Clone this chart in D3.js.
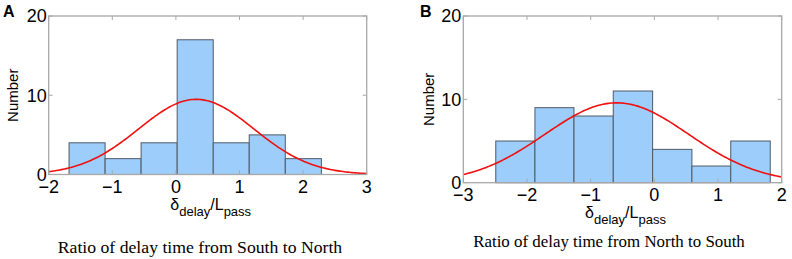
<!doctype html>
<html>
  <head>
    <meta charset="utf-8">
    <title>Delay ratio histograms</title>
    <script src="https://cdn.jsdelivr.net/npm/d3@7"></script>
    <style>
      body { margin: 0; background: #fff; }
      text { font-family: "Liberation Sans", Arial, sans-serif; }
      text.caption { font-family: "Liberation Serif", "Times New Roman", serif; }
    </style>
  </head>
  <body>
    <script>
      // bin edges and counts
      const edgesA = [-1.68, -1.113, -0.547, 0.02, 0.587, 1.153, 1.72, 2.287];
      const countsA = [4, 2, 4, 17, 4, 5, 2];
      const edgesB = [-2.49, -1.875, -1.262, -0.645, -0.027, 0.59, 1.2, 1.82];
      const countsB = [5, 9, 8, 11, 4, 2, 5];

      // fitted normal curve: [mean, sd]
      const fitA = [0.32, 0.906];
      const fitB = [-0.59, 1.128];

      const xTicksA = [-2, -1, 0, 1, 2, 3];
      const xTicksB = [-3, -2, -1, 0, 1, 2];
      const yTicks = [0, 10, 20];

      const captionA = 'Ratio of delay time from South to North';
      const captionB = 'Ratio of delay time from North to South';

      const svg = d3.select('body').append('svg')
          .attr('width', 792)
          .attr('height', 259);

      function panel(o) {
        const g = svg.append('g');
        const x = d3.scaleLinear().domain(o.xDomain).range([o.left, o.right]);
        const y = d3.scaleLinear().domain([0, 20]).range([o.bottom, o.top]);

        const bins = o.counts.map((c, i) => ({ x0: o.edges[i], x1: o.edges[i + 1], n: c }));

        // bars
        g.append('g').selectAll('rect')
          .data(bins)
          .enter().append('rect')
            .attr('x', d => x(d.x0))
            .attr('y', d => y(d.n))
            .attr('width', d => x(d.x1) - x(d.x0))
            .attr('height', d => y(0) - y(d.n))
            .attr('fill', '#9dcdfb')
            .attr('stroke', '#4f5a66')
            .attr('stroke-width', 1);

        // normal fit scaled to the counts
        const total = d3.sum(o.counts);
        const bw = (o.edges[o.edges.length - 1] - o.edges[0]) / o.counts.length;
        const [mu, sd] = o.fit;
        const pdf = v => total * bw * Math.exp(-0.5 * ((v - mu) / sd) ** 2) / (sd * Math.sqrt(2 * Math.PI));
        const xs = d3.range(0, 201).map(i => o.xDomain[0] + (o.xDomain[1] - o.xDomain[0]) * i / 200);
        g.append('path')
            .datum(xs)
            .attr('fill', 'none')
            .attr('stroke', '#f01010')
            .attr('stroke-width', 1.6)
            .attr('d', d3.line().x(d => x(d)).y(d => y(pdf(d))));

        // frame
        g.append('rect')
            .attr('x', o.left)
            .attr('y', o.top)
            .attr('width', o.right - o.left)
            .attr('height', o.bottom - o.top)
            .attr('fill', 'none')
            .attr('stroke', '#a8a8a8')
            .attr('stroke-width', 1.3);

        // inward ticks
        const ticks = g.append('g').attr('stroke', '#a8a8a8').attr('stroke-width', 1);
        yTicks.forEach(t => {
          ticks.append('line').attr('x1', o.left).attr('x2', o.left + 4).attr('y1', y(t)).attr('y2', y(t));
          ticks.append('line').attr('x1', o.right).attr('x2', o.right - 4).attr('y1', y(t)).attr('y2', y(t));
        });
        o.xTicks.forEach(t => {
          ticks.append('line').attr('x1', x(t)).attr('x2', x(t)).attr('y1', o.bottom).attr('y2', o.bottom - 4);
          ticks.append('line').attr('x1', x(t)).attr('x2', x(t)).attr('y1', o.top).attr('y2', o.top + 4);
        });

        // tick labels
        g.append('g').selectAll('text')
          .data(yTicks)
          .enter().append('text')
            .attr('x', o.left - 2)
            .attr('y', d => y(d))
            .attr('dy', '0.36em')
            .attr('text-anchor', 'end')
            .attr('font-size', 18)
            .text(d => d);

        g.append('g').selectAll('text')
          .data(o.xTicks)
          .enter().append('text')
            .attr('x', d => x(d))
            .attr('y', o.bottom + 18)
            .attr('text-anchor', 'middle')
            .attr('font-size', 18)
            .text(d => d < 0 ? '\u2212' + Math.abs(d) : d);

        // axis labels
        g.append('text')
            .attr('transform', `translate(${o.yLabelX},${(o.top + o.bottom) / 2}) rotate(-90)`)
            .attr('text-anchor', 'middle')
            .attr('font-size', 15)
            .text('Number');

        const xl = g.append('text')
            .attr('x', (o.left + o.right) / 2 + 3)
            .attr('y', o.bottom + 35)
            .attr('text-anchor', 'middle')
            .attr('font-size', 16);
        xl.append('tspan').text('\u03b4');
        xl.append('tspan').attr('font-size', 13).attr('dy', 6).text('delay');
        xl.append('tspan').attr('dy', -6).text('/L');
        xl.append('tspan').attr('font-size', 13).attr('dy', 6).text('pass');

        g.append('text')
            .attr('x', o.labelX)
            .attr('y', 17)
            .attr('font-size', 16)
            .attr('font-weight', 'bold')
            .text(o.label);

        g.append('text')
            .attr('class', 'caption')
            .attr('x', o.captionX)
            .attr('y', o.captionY)
            .attr('text-anchor', 'middle')
            .attr('font-size', o.captionSize)
            .text(o.caption);
      }

      panel({
        edges: edgesA, counts: countsA, fit: fitA, xTicks: xTicksA, xDomain: [-2, 3],
        left: 48.7, right: 366.7, top: 16, bottom: 174.5,
        yLabelX: 18, label: 'A', labelX: 3,
        caption: captionA, captionX: 200, captionY: 253, captionSize: 17.7
      });

      panel({
        edges: edgesB, counts: countsB, fit: fitB, xTicks: xTicksB, xDomain: [-3, 2],
        left: 463.3, right: 781.7, top: 16, bottom: 182.7,
        yLabelX: 434, label: 'B', labelX: 420,
        caption: captionB, captionX: 609, captionY: 247, captionSize: 16.9
      });
    </script>
  </body>
</html>
